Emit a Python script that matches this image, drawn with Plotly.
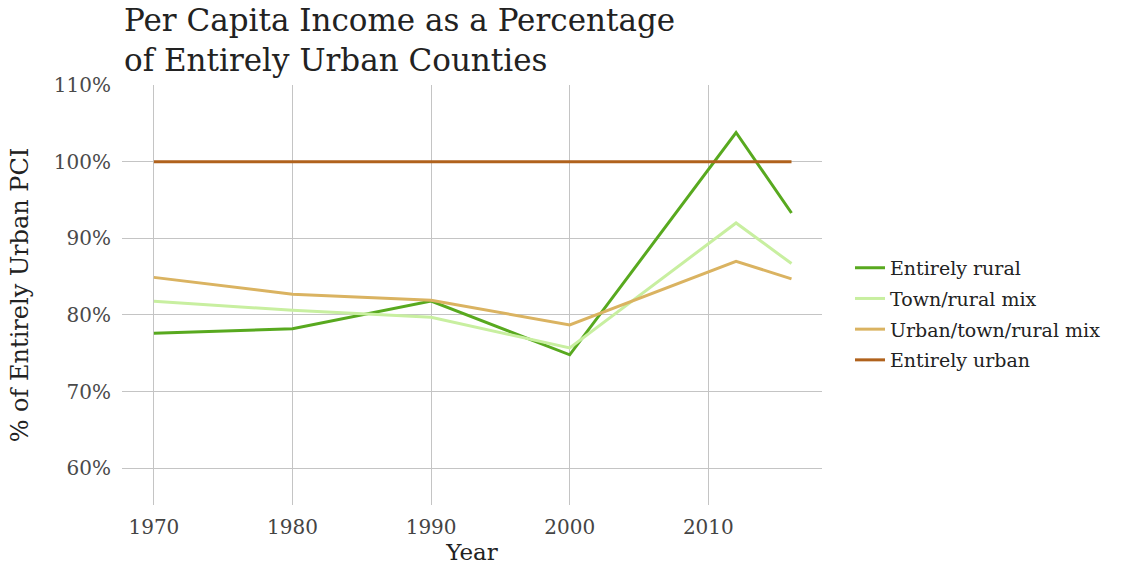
import plotly.graph_objects as go

# Per capita income relative to entirely urban counties (%)
years = [1970, 1980, 1990, 2000, 2012, 2016]
entirely_rural = [77.6, 78.2, 81.8, 74.8, 103.8, 93.3]
town_rural_mix = [81.8, 80.6, 79.7, 75.7, 92.0, 86.7]
urban_town_rural_mix = [84.9, 82.7, 81.9, 78.7, 87.0, 84.7]
entirely_urban = [100, 100, 100, 100, 100, 100]

x_ticks = [1970, 1980, 1990, 2000, 2010]
y_ticks = [60, 70, 80, 90, 100, 110]
y_tick_labels = ["60%", "70%", "80%", "90%", "100%", "110%"]

series = [
    ("Entirely rural", entirely_rural, "#58a91f"),
    ("Town/rural mix", town_rural_mix, "#c8efa0"),
    ("Urban/town/rural mix", urban_town_rural_mix, "#dab361"),
    ("Entirely urban", entirely_urban, "#b0621c"),
]

FONT = "DejaVu Serif"
GRID = "#c4c4c4"

fig = go.Figure()
for name, vals, color in series:
    fig.add_trace(go.Scatter(
        x=years, y=vals, name=name, mode="lines", legendgroup=name,
        line=dict(color=color, width=3),
    ))

fig.update_layout(
    width=1137, height=569,
    margin=dict(l=122, r=315, t=85, b=62),
    paper_bgcolor="white", plot_bgcolor="white",
    font=dict(family=FONT, color="#222222"),
    legend=dict(
        x=1.04, xanchor="left", y=0.455, yanchor="middle",
        font=dict(family=FONT, size=19, color="#222222"),
        tracegroupgap=3, bgcolor="rgba(0,0,0,0)",
    ),
    showlegend=True,
    annotations=[dict(
        text="Per Capita Income as a Percentage<br>of Entirely Urban Counties",
        xref="paper", yref="paper", x=0, y=1 + (85 - 40) / 422,
        xanchor="left", yanchor="middle", align="left", showarrow=False,
        font=dict(family=FONT, size=31, color="#222222"),
    )],
)

fig.update_xaxes(
    range=[1967.7, 2018.2],
    tickvals=x_ticks,
    showgrid=True, gridcolor=GRID, gridwidth=1,
    zeroline=False, showline=False, ticks="", ticklabelstandoff=8,
    tickfont=dict(family=FONT, size=20, color="#444444"),
    title=dict(text="Year", font=dict(family=FONT, size=23, color="#222222"), standoff=2),
)
fig.update_yaxes(
    range=[55.2, 110],
    tickvals=y_ticks,
    ticktext=y_tick_labels,
    showgrid=True, gridcolor=GRID, gridwidth=1,
    zeroline=False, showline=False, ticks="", ticklabelstandoff=10,
    tickfont=dict(family=FONT, size=20, color="#4a4a4a"),
    title=dict(text="% of Entirely Urban PCI", font=dict(family=FONT, size=24, color="#222222"), standoff=18),
)

fig.write_html("out.html")
